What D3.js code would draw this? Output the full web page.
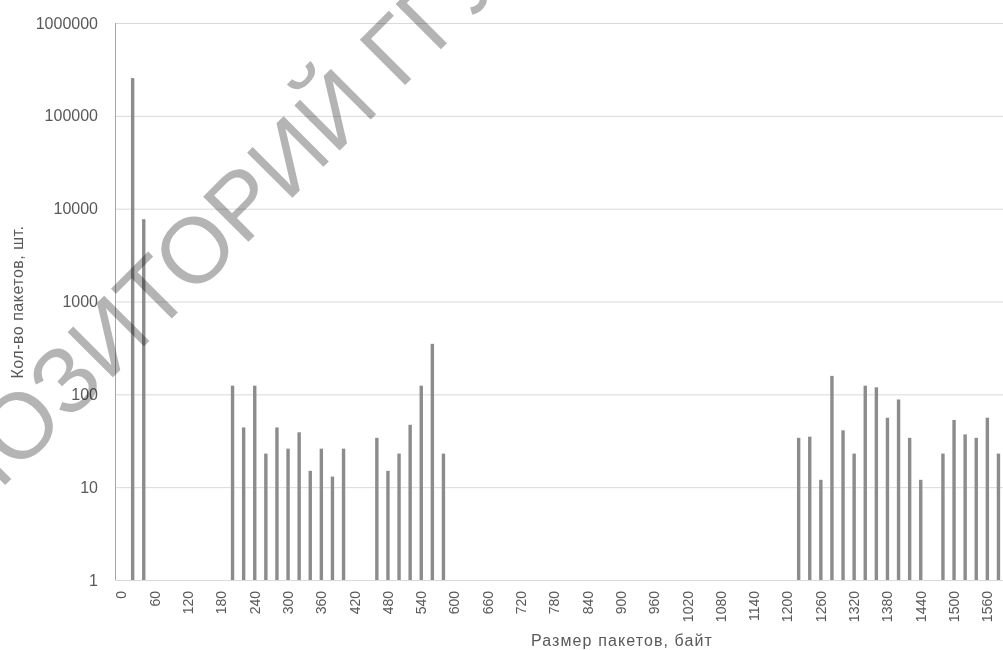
<!DOCTYPE html>
<html>
<head>
<meta charset="utf-8">
<script src="https://cdn.jsdelivr.net/npm/d3@7"></script>
<style>
  body { margin: 0; background: #fff; }
  svg { display: block; font-family: "Liberation Sans", Arial, sans-serif; }
</style>
</head>
<body>
<svg width="1003" height="650"></svg>
<script>
// packet size bins, bytes
var sizes = [0, 20, 40, 60, 80, 100, 120, 140, 160, 180, 200, 220, 240, 260, 280, 300, 320, 340, 360, 380,
  400, 420, 440, 460, 480, 500, 520, 540, 560, 580, 600, 620, 640, 660, 680, 700, 720, 740, 760, 780,
  800, 820, 840, 860, 880, 900, 920, 940, 960, 980, 1000, 1020, 1040, 1060, 1080, 1100, 1120, 1140, 1160, 1180,
  1200, 1220, 1240, 1260, 1280, 1300, 1320, 1340, 1360, 1380, 1400, 1420, 1440, 1460, 1480, 1500, 1520, 1540, 1560, 1580];

// non-empty bins and their packet counts
var barSizes = [20, 40, 200, 220, 240, 260, 280, 300, 320, 340, 360, 380, 400,
  460, 480, 500, 520, 540, 560, 580,
  1220, 1240, 1260, 1280, 1300, 1320, 1340, 1360, 1380, 1400, 1420, 1440,
  1480, 1500, 1520, 1540, 1560, 1580];
var counts = [255000, 7700, 124, 44, 124, 23, 44, 26, 39, 15, 26, 13, 26,
  34, 15, 23, 47, 124, 350, 23,
  34, 35, 12, 158, 41, 23, 124, 119, 56, 88, 34, 12,
  23, 53, 37, 34, 56, 23];

var xTickLabels = [0, 60, 120, 180, 240, 300, 360, 420, 480, 540, 600, 660, 720, 780, 840, 900, 960,
  1020, 1080, 1140, 1200, 1260, 1320, 1380, 1440, 1500, 1560];
var yTickLabels = [1, 10, 100, 1000, 10000, 100000, 1000000];

var svg = d3.select("svg");
var plotLeft = 115, plotRight = 1003, plotTop = 23, plotBottom = 580;

var x = d3.scaleBand().domain(sizes).range([plotLeft + 1, plotRight + 1]);
var y = d3.scaleLog().domain([1, 1000000]).range([plotBottom, plotTop]);

// gridlines
svg.append("g").selectAll("line").data(yTickLabels).enter()
  .append("line")
  .attr("x1", plotLeft).attr("x2", plotRight)
  .attr("y1", function(d){return y(d) + 0.5;}).attr("y2", function(d){return y(d) + 0.5;})
  .attr("stroke", "#d9d9d9").attr("stroke-width", 1);

// left axis line
svg.append("line")
  .attr("x1", plotLeft + 0.5).attr("x2", plotLeft + 0.5)
  .attr("y1", plotTop).attr("y2", plotBottom)
  .attr("stroke", "#a6a6a6");

// y axis labels
var yAxis = d3.axisLeft(y).tickValues(yTickLabels).tickFormat(d3.format("d")).tickSize(0).tickPadding(17);
svg.append("g").attr("transform", "translate(" + plotLeft + ",0)").call(yAxis)
  .call(function(g){ g.select(".domain").remove(); })
  .selectAll("text").attr("font-size", 16).attr("fill", "#595959")
  .attr("font-family", "Liberation Sans, Arial, sans-serif");

// x axis labels
var xAxis = d3.axisBottom(x).tickValues(xTickLabels).tickSize(0);
svg.append("g").attr("transform", "translate(0," + plotBottom + ")").call(xAxis)
  .call(function(g){ g.select(".domain").remove(); })
  .selectAll("text")
  .attr("font-size", 14).attr("fill", "#595959")
  .attr("font-family", "Liberation Sans, Arial, sans-serif")
  .attr("transform", "rotate(-90)")
  .attr("text-anchor", "end")
  .attr("x", -11).attr("y", 0).attr("dy", "0.35em");

// bars
var bw = 3.4;
svg.append("g").selectAll("rect").data(barSizes).enter()
  .append("rect")
  .attr("x", function(d){return x(d) + x.bandwidth() / 2 - bw / 2;})
  .attr("y", function(d, i){return y(counts[i]);})
  .attr("width", bw)
  .attr("height", function(d, i){return plotBottom - y(counts[i]);})
  .attr("fill", "#8c8c8c");

// axis titles
svg.append("text")
  .attr("x", 622).attr("y", 646)
  .attr("text-anchor", "middle")
  .attr("font-size", 16).attr("letter-spacing", 1.1).attr("fill", "#595959")
  .text("Размер пакетов, байт");

svg.append("text")
  .attr("transform", "translate(23,302) rotate(-90)")
  .attr("text-anchor", "middle")
  .attr("font-size", 16).attr("letter-spacing", 0.5).attr("fill", "#595959")
  .text("Кол-во пакетов, шт.");

// repository watermark
var wm = svg.append("g").style("mix-blend-mode", "multiply");
var wmText = wm.append("text")
  .attr("x", 0).attr("y", 0)
  .attr("font-size", 93)
  .attr("fill", "#b4b4b4")
  .text("РЕПОЗИТОРИЙ ГГУ");
var box = wmText.node().getExtentOfChar(4);
var cx = box.x + box.width / 2, cy = box.y + box.height / 2;
wm.attr("transform", "translate(65,380) rotate(-45) translate(" + (-cx) + "," + (-cy) + ")");
</script>
</body>
</html>
